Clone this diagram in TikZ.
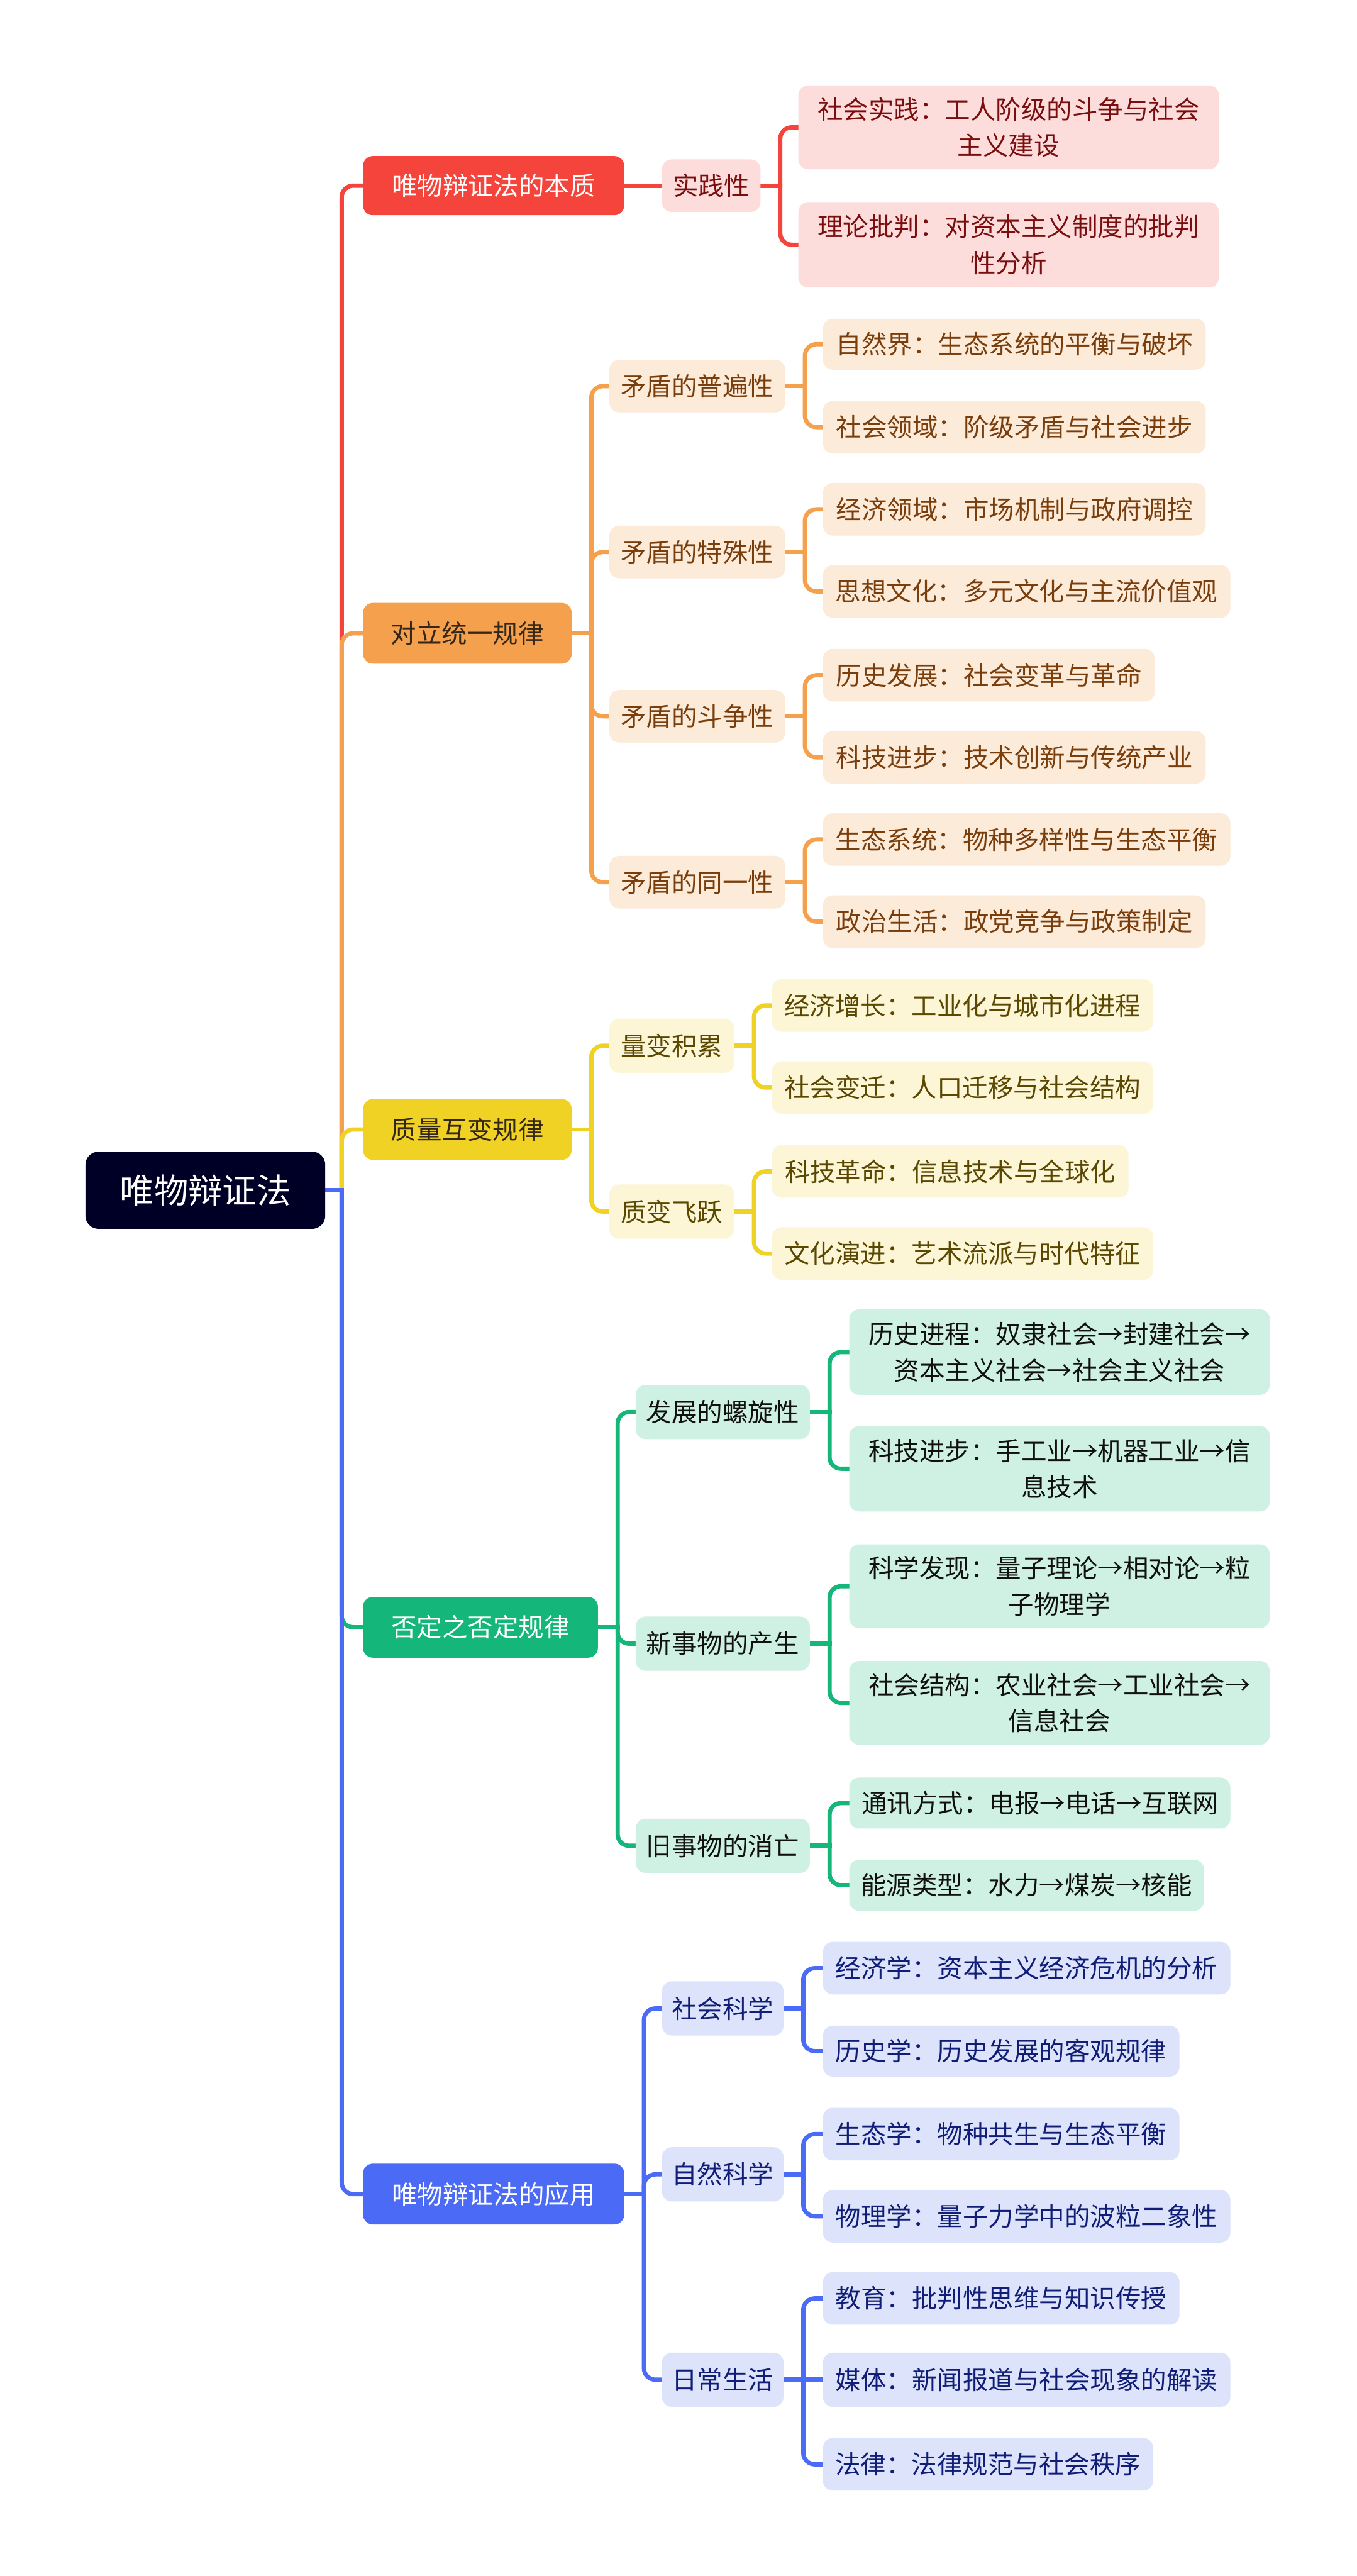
\documentclass[tikz,border=0pt]{standalone}
\usepackage{fontspec}
\setmainfont{Noto Sans CJK SC}
\usetikzlibrary{calc}
\pgfdeclarelayer{bg}
\pgfsetlayers{bg,main}
\definecolor{cR}{HTML}{F5443C}
\definecolor{cRl}{HTML}{FDDCDC}
\definecolor{cRt}{HTML}{7A0E0E}
\definecolor{cO}{HTML}{F4A04C}
\definecolor{cOl}{HTML}{FDEBDA}
\definecolor{cOt}{HTML}{7A3E0C}
\definecolor{cY}{HTML}{F0D224}
\definecolor{cYl}{HTML}{FCF5D6}
\definecolor{cYt}{HTML}{5A4800}
\definecolor{cG}{HTML}{14B67A}
\definecolor{cGl}{HTML}{CFF1E3}
\definecolor{cGt}{HTML}{111111}
\definecolor{cB}{HTML}{4B6BF7}
\definecolor{cBl}{HTML}{DCE3FB}
\definecolor{cBt}{HTML}{101E78}
\definecolor{cRoot}{HTML}{000026}
\definecolor{cDark}{HTML}{33261A}
\tikzset{
  base/.style={inner sep=0pt, rounded corners=6pt, font=\fontsize{15.5}{22}\selectfont, align=center},
  rootbox/.style={inner sep=0pt, rounded corners=8pt, fill=cRoot, text=white, font=\fontsize{20.8}{25}\selectfont},
  Rone/.style={base, fill=cR, text=white},
  Oone/.style={base, fill=cO, text=cDark},
  Yone/.style={base, fill=cY, text=cDark},
  Gone/.style={base, fill=cG, text=white},
  Bone/.style={base, fill=cB, text=white},
  Rtwo/.style={base, fill=cRl, text=cRt},
  Otwo/.style={base, fill=cOl, text=cOt},
  Ytwo/.style={base, fill=cYl, text=cYt},
  Gtwo/.style={base, fill=cGl, text=cGt},
  Btwo/.style={base, fill=cBl, text=cBt},
  conR/.style={draw=cR, line width=2.6pt, line cap=rect},
  conO/.style={draw=cO, line width=2.6pt, line cap=rect},
  conY/.style={draw=cY, line width=2.6pt, line cap=rect},
  conG/.style={draw=cG, line width=2.6pt, line cap=rect},
  conB/.style={draw=cB, line width=2.6pt, line cap=rect},
}
\newcommand\bx[7]{\node[#2, minimum width={(#5-#3)*1pt}, minimum height={(#6-#4)*1pt}] (#1) at ({(#3+#5)/2},{(#4+#6)/2}) {#7};}
\newcommand\elb[4]{%
  \draw[#1] (#2.east) -- (#2.east -| #3);
  \draw[#1, rounded corners=7pt] (#2.east -| #3) |- (#4.west);}
\begin{document}
\begin{tikzpicture}[x=1pt, y=-1pt]
\begin{pgfonlayer}{bg}
\fill[white] (0,0) rectangle (826,1568);
\end{pgfonlayer}
\useasboundingbox (0,0) rectangle (826,1568);
% vertical line positions
\coordinate (vT) at (208,0);
\coordinate (vR) at (475,0);
\coordinate (vO1) at (360,0);
\coordinate (vO2) at (490,0);
\coordinate (vY1) at (360,0);
\coordinate (vY2) at (459,0);
\coordinate (vG1) at (376,0);
\coordinate (vG2) at (505,0);
\coordinate (vB1) at (392,0);
\coordinate (vB2) at (489,0);
% root
\bx{root}{rootbox}{52}{701}{198}{748}{唯物辩证法}
% red branch
\bx{A}{Rone}{221}{95}{380}{131}{唯物辩证法的本质}
\bx{A1}{Rtwo}{403}{97}{463}{129}{实践性}
\bx{A1a}{Rtwo}{486}{52}{742}{103}{社会实践：工人阶级的斗争与社会\\主义建设}
\bx{A1b}{Rtwo}{486}{123}{742}{175}{理论批判：对资本主义制度的批判\\性分析}
% orange branch
\bx{B}{Oone}{221}{367}{348}{404}{对立统一规律}
\bx{B1}{Otwo}{371}{219}{478}{251}{矛盾的普遍性}
\bx{B2}{Otwo}{371}{320}{478}{352}{矛盾的特殊性}
\bx{B3}{Otwo}{371}{420}{478}{452}{矛盾的斗争性}
\bx{B4}{Otwo}{371}{521}{478}{553}{矛盾的同一性}
\bx{B1a}{Otwo}{501}{194}{734}{225}{自然界：生态系统的平衡与破坏}
\bx{B1b}{Otwo}{501}{244}{734}{276}{社会领域：阶级矛盾与社会进步}
\bx{B2a}{Otwo}{501}{294}{734}{326}{经济领域：市场机制与政府调控}
\bx{B2b}{Otwo}{501}{344}{749}{376}{思想文化：多元文化与主流价值观}
\bx{B3a}{Otwo}{501}{395}{703}{427}{历史发展：社会变革与革命}
\bx{B3b}{Otwo}{501}{445}{734}{477}{科技进步：技术创新与传统产业}
\bx{B4a}{Otwo}{501}{495}{749}{527}{生态系统：物种多样性与生态平衡}
\bx{B4b}{Otwo}{501}{545}{734}{577}{政治生活：政党竞争与政策制定}
% yellow branch
\bx{C}{Yone}{221}{669}{348}{706}{质量互变规律}
\bx{C1}{Ytwo}{371}{620}{447}{653}{量变积累}
\bx{C2}{Ytwo}{371}{721}{447}{754}{质变飞跃}
\bx{C1a}{Ytwo}{470}{596}{702}{628}{经济增长：工业化与城市化进程}
\bx{C1b}{Ytwo}{470}{646}{702}{678}{社会变迁：人口迁移与社会结构}
\bx{C2a}{Ytwo}{470}{697}{687}{729}{科技革命：信息技术与全球化}
\bx{C2b}{Ytwo}{470}{747}{702}{779}{文化演进：艺术流派与时代特征}
% green branch
\bx{D}{Gone}{221}{972}{364}{1009}{否定之否定规律}
\bx{D1}{Gtwo}{387}{843}{493}{876}{发展的螺旋性}
\bx{D2}{Gtwo}{387}{984}{493}{1017}{新事物的产生}
\bx{D3}{Gtwo}{387}{1107}{493}{1140}{旧事物的消亡}
\bx{D1a}{Gtwo}{517}{797}{773}{849}{历史进程：奴隶社会→封建社会→\\资本主义社会→社会主义社会}
\bx{D1b}{Gtwo}{517}{868}{773}{920}{科技进步：手工业→机器工业→信\\息技术}
\bx{D2a}{Gtwo}{517}{940}{773}{991}{科学发现：量子理论→相对论→粒\\子物理学}
\bx{D2b}{Gtwo}{517}{1011}{773}{1062}{社会结构：农业社会→工业社会→\\信息社会}
\bx{D3a}{Gtwo}{517}{1082}{749}{1113}{通讯方式：电报→电话→互联网}
\bx{D3b}{Gtwo}{517}{1132}{733}{1163}{能源类型：水力→煤炭→核能}
% blue branch
\bx{E}{Bone}{221}{1317}{380}{1354}{唯物辩证法的应用}
\bx{E1}{Btwo}{403}{1206}{477}{1239}{社会科学}
\bx{E2}{Btwo}{403}{1307}{477}{1340}{自然科学}
\bx{E3}{Btwo}{403}{1432}{477}{1465}{日常生活}
\bx{E1a}{Btwo}{501}{1182}{749}{1214}{经济学：资本主义经济危机的分析}
\bx{E1b}{Btwo}{501}{1233}{718}{1264}{历史学：历史发展的客观规律}
\bx{E2a}{Btwo}{501}{1283}{718}{1315}{生态学：物种共生与生态平衡}
\bx{E2b}{Btwo}{501}{1333}{749}{1365}{物理学：量子力学中的波粒二象性}
\bx{E3a}{Btwo}{501}{1383}{718}{1415}{教育：批判性思维与知识传授}
\bx{E3b}{Btwo}{501}{1432}{749}{1465}{媒体：新闻报道与社会现象的解读}
\bx{E3c}{Btwo}{501}{1484}{702}{1516}{法律：法律规范与社会秩序}
% connectors
\begin{pgfonlayer}{bg}
% red
\elb{conR}{root}{vT}{A}
\draw[conR] (A.east) -- (A1.west);
\elb{conR}{A1}{vR}{A1a}
\elb{conR}{A1}{vR}{A1b}
% orange
\elb{conO}{root}{vT}{B}
\elb{conO}{B}{vO1}{B1}
\elb{conO}{B}{vO1}{B2}
\elb{conO}{B}{vO1}{B3}
\elb{conO}{B}{vO1}{B4}
\elb{conO}{B1}{vO2}{B1a}
\elb{conO}{B1}{vO2}{B1b}
\elb{conO}{B2}{vO2}{B2a}
\elb{conO}{B2}{vO2}{B2b}
\elb{conO}{B3}{vO2}{B3a}
\elb{conO}{B3}{vO2}{B3b}
\elb{conO}{B4}{vO2}{B4a}
\elb{conO}{B4}{vO2}{B4b}
% yellow
\elb{conY}{root}{vT}{C}
\elb{conY}{C}{vY1}{C1}
\elb{conY}{C}{vY1}{C2}
\elb{conY}{C1}{vY2}{C1a}
\elb{conY}{C1}{vY2}{C1b}
\elb{conY}{C2}{vY2}{C2a}
\elb{conY}{C2}{vY2}{C2b}
% green
\elb{conG}{root}{vT}{D}
\elb{conG}{D}{vG1}{D1}
\elb{conG}{D}{vG1}{D2}
\elb{conG}{D}{vG1}{D3}
\elb{conG}{D1}{vG2}{D1a}
\elb{conG}{D1}{vG2}{D1b}
\elb{conG}{D2}{vG2}{D2a}
\elb{conG}{D2}{vG2}{D2b}
\elb{conG}{D3}{vG2}{D3a}
\elb{conG}{D3}{vG2}{D3b}
% blue
\elb{conB}{root}{vT}{E}
\elb{conB}{E}{vB1}{E1}
\elb{conB}{E}{vB1}{E2}
\elb{conB}{E}{vB1}{E3}
\elb{conB}{E1}{vB2}{E1a}
\elb{conB}{E1}{vB2}{E1b}
\elb{conB}{E2}{vB2}{E2a}
\elb{conB}{E2}{vB2}{E2b}
\elb{conB}{E3}{vB2}{E3a}
\draw[conB] (E3.east) -- (E3b.west);
\elb{conB}{E3}{vB2}{E3c}
\end{pgfonlayer}
\end{tikzpicture}
\end{document}
